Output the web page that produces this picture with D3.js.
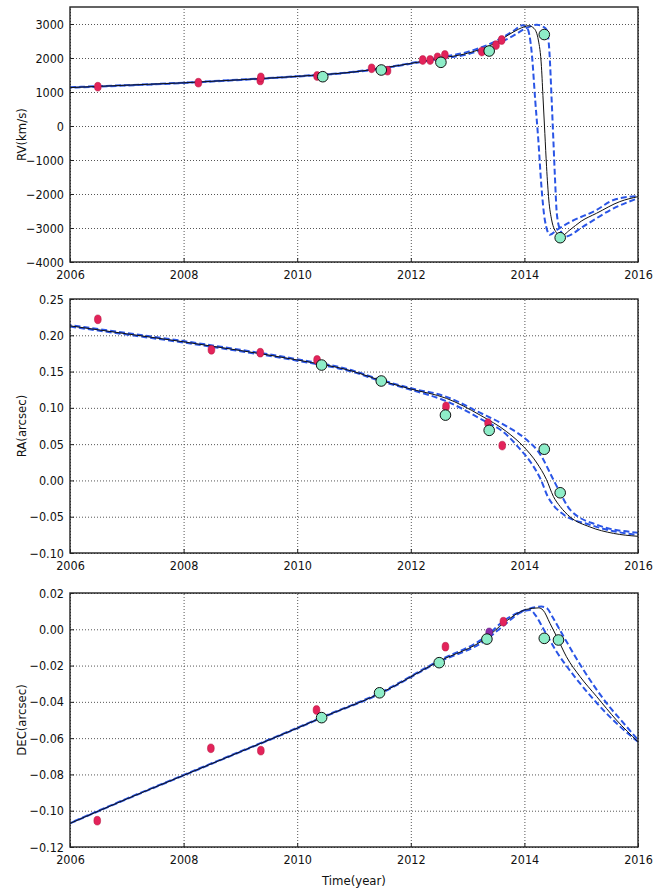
<!DOCTYPE html>
<html><head><meta charset="utf-8">
<script src="https://cdn.jsdelivr.net/npm/d3@7"></script>
<style>
body{margin:0;background:#fff;}
text{font-family:"DejaVu Sans Condensed","DejaVu Sans",sans-serif;fill:#111;}
</style></head>
<body><svg id="c" width="667" height="888"></svg>
<script>
// ---------- data ----------
const xTicks = [2006, 2008, 2010, 2012, 2014, 2016];
const rvTicks = [-4000, -3000, -2000, -1000, 0, 1000, 2000, 3000];
const raTicks = [-0.10, -0.05, 0.00, 0.05, 0.10, 0.15, 0.20, 0.25];
const decTicks = [-0.12, -0.10, -0.08, -0.06, -0.04, -0.02, 0.00, 0.02];

// RV panel
const rvRedYear = [2006.49, 2008.26, 2009.35, 2009.36, 2010.35, 2011.31, 2011.59, 2012.21, 2012.34, 2012.47, 2012.60, 2013.25, 2013.50, 2013.60];
const rvRedVal  = [1156, 1274, 1340, 1430, 1470, 1697, 1626, 1941, 1941, 2020, 2088, 2190, 2380, 2530];
const rvCyanYear = [2010.45, 2011.48, 2012.53, 2013.38, 2014.35, 2014.63];
const rvCyanVal  = [1450, 1647, 1873, 2206, 2690, -3285];
const rvFitYear = [2006, 2007, 2008, 2009, 2010, 2011, 2012, 2012.5, 2013, 2013.5, 2013.8, 2014.0, 2014.07, 2014.17, 2014.245, 2014.30, 2014.33, 2014.36, 2014.39, 2014.43, 2014.48, 2014.57, 2014.63, 2014.80, 2015.0, 2015.27, 2015.68, 2016];
const rvFitVal  = [1130, 1200, 1270, 1360, 1460, 1590, 1840, 1990, 2140, 2450, 2760, 2920, 2950, 2870, 2530, 1745, 765, -216, -1196, -2176, -2764, -3156, -3254, -3058, -2800, -2567, -2224, -2078];
const rvLoYear = [2006, 2008, 2009, 2010, 2011, 2012, 2012.5, 2013, 2013.5, 2013.8, 2013.97, 2014.05, 2014.13, 2014.19, 2014.245, 2014.30, 2014.36, 2014.45, 2014.57, 2014.8, 2015.27, 2015.57, 2016];
const rvLoVal  = [1140, 1275, 1365, 1465, 1595, 1850, 2010, 2180, 2500, 2790, 2960, 2880, 2136, 765, -412, -1784, -2764, -3200, -3058, -2830, -2470, -2176, -2058];
const rvHiYear = [2006, 2008, 2009, 2010, 2011, 2012, 2012.5, 2013, 2013.5, 2013.8, 2014.0, 2014.22, 2014.33, 2014.39, 2014.44, 2014.48, 2014.51, 2014.54, 2014.57, 2014.63, 2014.72, 2015.04, 2015.57, 2016];
const rvHiVal  = [1125, 1265, 1355, 1455, 1585, 1830, 1975, 2110, 2400, 2650, 2850, 2980, 2920, 2833, 2195, 765, -412, -1588, -2568, -3058, -3250, -2950, -2421, -2127];

// RA panel
const raRedYear = [2006.49, 2008.49, 2009.35, 2010.35, 2012.62, 2013.36, 2013.61];
const raRedVal  = [0.222, 0.180, 0.176, 0.166, 0.102, 0.079, 0.048];
const raCyanYear = [2010.43, 2011.48, 2012.61, 2013.38, 2014.35, 2014.63];
const raCyanVal  = [0.159, 0.137, 0.090, 0.069, 0.043, -0.017];
const raFitYear = [2006, 2007, 2008, 2009, 2010, 2011, 2011.46, 2012, 2012.63, 2013.22, 2013.69, 2013.98, 2014.22, 2014.39, 2014.51, 2014.63, 2014.80, 2015.15, 2015.57, 2016];
const raFitVal  = [0.213, 0.202, 0.191, 0.179, 0.166, 0.150, 0.138, 0.126, 0.113, 0.090, 0.067, 0.047, 0.024, 0.001, -0.022, -0.036, -0.050, -0.064, -0.073, -0.077];
const raLoYear = [2006, 2007, 2008, 2009, 2010, 2011, 2011.46, 2012, 2012.6, 2013.2, 2013.7, 2013.88, 2014.12, 2014.29, 2014.41, 2014.53, 2014.69, 2015.15, 2015.57, 2016];
const raLoVal  = [0.212, 0.201, 0.190, 0.178, 0.165, 0.149, 0.137, 0.125, 0.110, 0.086, 0.062, 0.047, 0.024, 0.001, -0.022, -0.036, -0.047, -0.061, -0.070, -0.075];
const raHiYear = [2006, 2007, 2008, 2009, 2010, 2011, 2011.46, 2012, 2012.6, 2013.2, 2013.7, 2014.04, 2014.27, 2014.51, 2014.63, 2014.80, 2015.27, 2016];
const raHiVal  = [0.214, 0.203, 0.192, 0.180, 0.167, 0.151, 0.139, 0.127, 0.116, 0.094, 0.074, 0.056, 0.037, 0.001, -0.017, -0.040, -0.061, -0.072];

// DEC panel
const decRedYear = [2006.48, 2008.48, 2009.36, 2010.34, 2012.61, 2013.63];
const decRedVal  = [-0.1055, -0.0656, -0.0669, -0.0445, -0.0096, 0.0042];
const decPurpleYear = [2013.38];
const decPurpleVal  = [-0.0017];
const decCyanYear = [2010.43, 2011.45, 2012.50, 2013.34, 2014.35, 2014.60];
const decCyanVal  = [-0.0487, -0.035, -0.0184, -0.0054, -0.005, -0.0059];
const decFitYear = [2006, 2007, 2008, 2009, 2010, 2010.43, 2011.46, 2012.48, 2013.34, 2013.63, 2014.04, 2014.25, 2014.33, 2014.45, 2014.57, 2014.74, 2014.98, 2015.27, 2015.62, 2016];
const decFitVal  = [-0.107, -0.0935, -0.0805, -0.0675, -0.0545, -0.0487, -0.0353, -0.0179, -0.0045, 0.0033, 0.0110, 0.0118, 0.0105, 0.0033, -0.0041, -0.0151, -0.0261, -0.037, -0.050, -0.062];
const decLoYear = [2006, 2007, 2008, 2009, 2010, 2010.43, 2011.46, 2012.48, 2013.34, 2013.63, 2013.95, 2014.1, 2014.2, 2014.33, 2014.57, 2014.92, 2015.27, 2015.68, 2016];
const decLoVal  = [-0.107, -0.0936, -0.0806, -0.0676, -0.0546, -0.0488, -0.0355, -0.0182, -0.0055, 0.002, 0.0095, 0.0106, 0.0075, 0.0005, -0.0125, -0.0275, -0.0405, -0.0535, -0.062];
const decHiYear = [2006, 2007, 2008, 2009, 2010, 2010.43, 2011.46, 2012.48, 2013.34, 2013.63, 2014.0, 2014.3, 2014.4, 2014.49, 2014.69, 2015.04, 2015.45, 2015.8, 2016];
const decHiVal  = [-0.1068, -0.0933, -0.0803, -0.0673, -0.0543, -0.0485, -0.0350, -0.0175, -0.0035, 0.0045, 0.0105, 0.0125, 0.0115, 0.007, -0.004, -0.0224, -0.0408, -0.0537, -0.061];

// ---------- drawing ----------
const svg = d3.select("#c");
const X0 = 70, X1 = 638;
const x = d3.scaleLinear().domain([2006, 2016]).range([X0, X1]);
const zip = (a, b) => a.map((v, i) => [v, b[i]]);

const panels = [
  {top: 7, bot: 262, dom: [-4000, 3500], ticks: rvTicks, fmt: d3.format("d"), label: "RV(km/s)",
   red: zip(rvRedYear, rvRedVal), cyan: zip(rvCyanYear, rvCyanVal), purple: [],
   fit: zip(rvFitYear, rvFitVal), lo: zip(rvLoYear, rvLoVal), hi: zip(rvHiYear, rvHiVal)},
  {top: 299, bot: 553, dom: [-0.10, 0.25], ticks: raTicks, fmt: d3.format(".2f"), label: "RA(arcsec)",
   red: zip(raRedYear, raRedVal), cyan: zip(raCyanYear, raCyanVal), purple: [],
   fit: zip(raFitYear, raFitVal), lo: zip(raLoYear, raLoVal), hi: zip(raHiYear, raHiVal)},
  {top: 593, bot: 847, dom: [-0.12, 0.02], ticks: decTicks, fmt: d3.format(".2f"), label: "DEC(arcsec)",
   red: zip(decRedYear, decRedVal), cyan: zip(decCyanYear, decCyanVal), purple: zip(decPurpleYear, decPurpleVal),
   fit: zip(decFitYear, decFitVal), lo: zip(decLoYear, decLoVal), hi: zip(decHiYear, decHiVal)}
];

const FS = 12.5;
panels.forEach((p, pi) => {
  const y = d3.scaleLinear().domain(p.dom).range([p.bot, p.top]);
  const g = svg.append("g");
  const clipId = "clip" + pi;
  svg.append("clipPath").attr("id", clipId).append("rect")
    .attr("x", X0).attr("y", p.top).attr("width", X1 - X0).attr("height", p.bot - p.top);

  // grid
  const gx = g.append("g").attr("transform", `translate(0,${p.bot})`)
    .call(d3.axisBottom(x).tickValues(xTicks).tickSize(-(p.bot - p.top)).tickFormat(""));
  const gy = g.append("g").attr("transform", `translate(${X0},0)`)
    .call(d3.axisLeft(y).tickValues(p.ticks).tickSize(-(X1 - X0)).tickFormat(""));
  [gx, gy].forEach(a => {
    a.select(".domain").remove();
    a.selectAll("line").attr("stroke", "#555").attr("stroke-width", 1).attr("stroke-dasharray", "1,2");
  });

  const line = d3.line().x(d => x(d[0])).y(d => y(d[1])).curve(d3.curveMonotoneX);
  const lg = g.append("g").attr("clip-path", `url(#${clipId})`);
  lg.append("path").attr("d", line(p.lo)).attr("fill", "none").attr("stroke", "#2a55e6")
    .attr("stroke-width", 2).attr("stroke-dasharray", "6,3");
  lg.append("path").attr("d", line(p.hi)).attr("fill", "none").attr("stroke", "#2a55e6")
    .attr("stroke-width", 2).attr("stroke-dasharray", "6,3").attr("stroke-dashoffset", 4.5);
  lg.append("path").attr("d", line(p.fit)).attr("fill", "none").attr("stroke", "#111")
    .attr("stroke-width", 1);

  // markers
  g.selectAll(".red").data(p.red).join("ellipse")
    .attr("cx", d => x(d[0])).attr("cy", d => y(d[1])).attr("rx", 3.4).attr("ry", 4.4)
    .attr("fill", "#e3235a").attr("stroke", "#b0103a").attr("stroke-width", 0.5);
  g.selectAll(".pur").data(p.purple).join("ellipse")
    .attr("cx", d => x(d[0])).attr("cy", d => y(d[1])).attr("rx", 3.4).attr("ry", 4.4)
    .attr("fill", "#8a2aa8").attr("stroke", "#5a1a70").attr("stroke-width", 0.5);
  g.selectAll(".cy").data(p.cyan).join("circle")
    .attr("cx", d => x(d[0])).attr("cy", d => y(d[1])).attr("r", 5.3)
    .attr("fill", "#8eedc8").attr("stroke", "#111").attr("stroke-width", 1);

  // frame
  g.append("rect").attr("x", X0).attr("y", p.top).attr("width", X1 - X0).attr("height", p.bot - p.top)
    .attr("fill", "none").attr("stroke", "#222").attr("stroke-width", 1.4);

  // axes with labels
  const ax = g.append("g").attr("transform", `translate(0,${p.bot})`)
    .call(d3.axisBottom(x).tickValues(xTicks).tickSizeInner(-4).tickSizeOuter(0).tickPadding(8).tickFormat(d3.format("d")));
  const ay = g.append("g").attr("transform", `translate(${X0},0)`)
    .call(d3.axisLeft(y).tickValues(p.ticks).tickSizeInner(-4).tickSizeOuter(0).tickPadding(6).tickFormat(p.fmt));
  [ax, ay].forEach(a => {
    a.select(".domain").remove();
    a.selectAll("line").attr("stroke", "#222");
    a.selectAll("text").attr("font-size", FS).attr("fill", "#111")
      .style("font-family", '"DejaVu Sans Condensed","DejaVu Sans",sans-serif');
  });

  g.append("text").attr("transform", `translate(21,${(p.top + p.bot) / 2}) rotate(-90)`)
    .attr("text-anchor", "middle").attr("dy", "0.35em").attr("font-size", 13).text(p.label);
});

svg.append("text").attr("x", (X0 + X1) / 2).attr("y", 880).attr("dy", "0.35em")
  .attr("text-anchor", "middle").attr("font-size", 13).text("Time(year)");
</script>
</body></html>
